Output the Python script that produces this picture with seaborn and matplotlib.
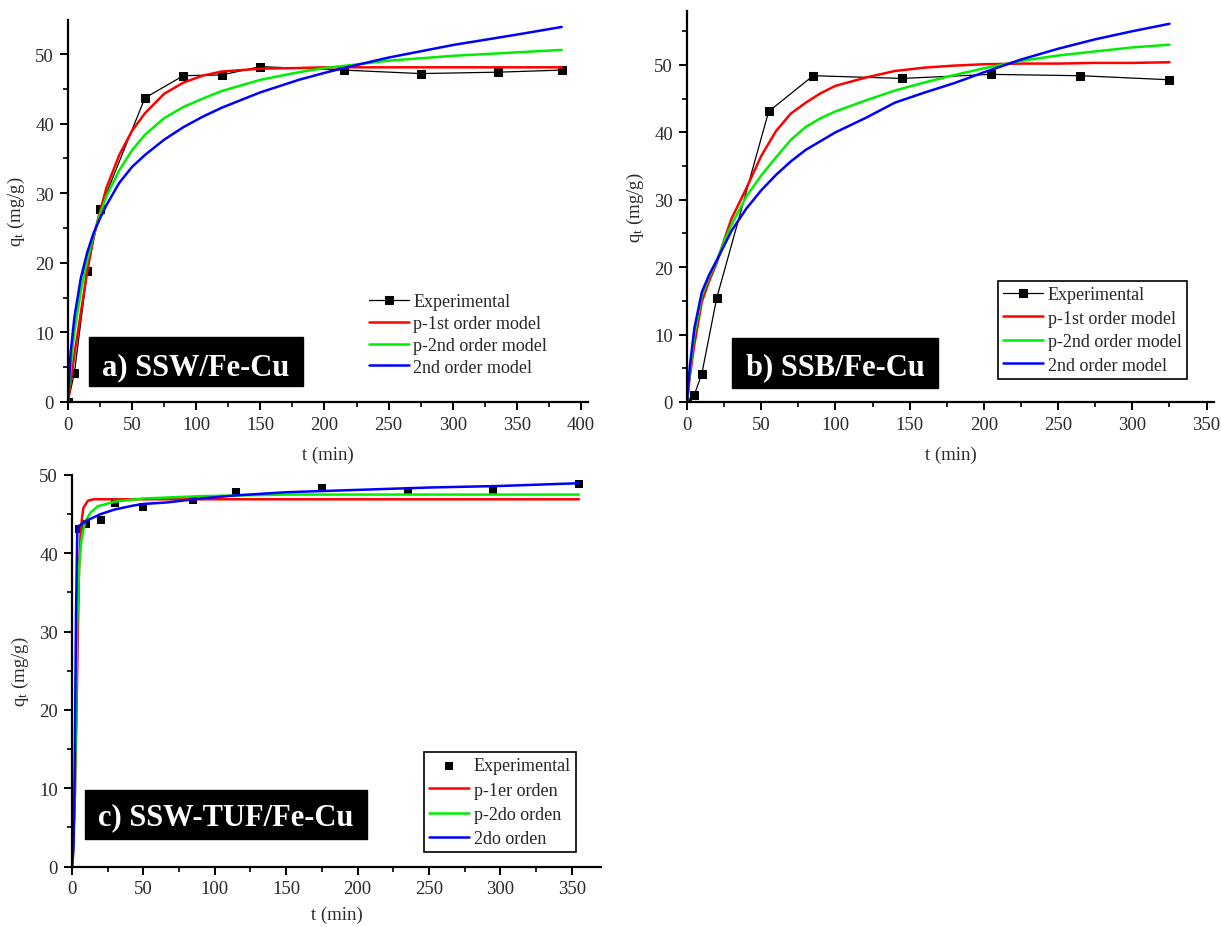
import matplotlib
matplotlib.use("Agg")
import matplotlib.pyplot as plt
from matplotlib.patches import Rectangle
from matplotlib.ticker import MultipleLocator
import seaborn as sns

# ---------------- a) SSW/Fe-Cu ----------------
a_exp_t = [0, 5, 15, 25, 60, 90, 120, 150, 215, 275, 335, 385]
a_exp_q = [0, 4.2, 18.8, 27.7, 43.7, 46.9, 47.0, 48.2, 47.7, 47.2, 47.4, 47.7]

a_fit_t = [0, 2, 5, 10, 15, 20, 25, 30, 40, 50, 60, 75, 90, 105, 120, 150,
           180, 200, 215, 250, 300, 350, 385]
a_pfo_q = [0, 2.8, 6.8, 12.8, 18.8, 23.8, 27.4, 30.8, 35.5, 39.0, 41.5, 44.3,
           45.9, 46.9, 47.5, 47.9, 48.0, 48.1, 48.1, 48.1, 48.1, 48.1, 48.1]
a_pso_q = [0, 5.0, 10.1, 15.9, 20.4, 24.0, 27.0, 29.6, 33.3, 36.2, 38.4, 40.8,
           42.4, 43.6, 44.7, 46.3, 47.4, 48.0, 48.3, 49.05, 49.75, 50.25, 50.6]
a_so_q = [0, 7.0, 12.2, 17.8, 21.5, 24.3, 26.4, 28.3, 31.5, 33.8, 35.5, 37.7,
          39.5, 41.0, 42.3, 44.5, 46.3, 47.3, 48.0, 49.5, 51.3, 52.8, 53.9]

# ---------------- b) SSB/Fe-Cu ----------------
b_exp_t = [0, 5, 10, 20, 55, 85, 145, 205, 265, 325]
b_exp_q = [0, 1.1, 4.2, 15.4, 43.1, 48.4, 48.0, 48.6, 48.4, 47.8]

b_fit_t = [0, 2, 5, 10, 15, 20, 25, 30, 40, 50, 60, 70, 80, 90, 100, 120, 140,
           160, 180, 200, 225, 250, 275, 300, 325]
b_pfo_q = [0, 4.0, 8.6, 14.9, 18.0, 20.6, 24.0, 27.2, 31.7, 36.5, 40.2, 42.8,
           44.4, 45.8, 46.9, 48.1, 49.1, 49.6, 49.9, 50.1, 50.2, 50.2, 50.3,
           50.3, 50.4]
b_pso_q = [0, 4.8, 10.0, 15.8, 18.6, 20.8, 23.8, 26.3, 30.5, 33.6, 36.3, 38.9,
           40.8, 42.1, 43.1, 44.7, 46.2, 47.4, 48.5, 49.5, 50.6, 51.4, 52.0,
           52.6, 53.0]
b_so_q = [0, 5.5, 11.0, 16.3, 18.9, 21.0, 23.2, 25.4, 28.7, 31.4, 33.7, 35.7,
          37.4, 38.7, 40.0, 42.1, 44.4, 45.9, 47.3, 48.9, 50.8, 52.4, 53.8,
          55.0, 56.1]

# ---------------- c) SSW-TUF/Fe-Cu ----------------
c_exp_t = [5, 10, 20, 30, 50, 85, 115, 175, 235, 295, 355]
c_exp_q = [43.1, 43.7, 44.2, 46.4, 45.9, 46.8, 47.8, 48.4, 48.0, 48.0, 48.85]

c_pfo_t = [0, 2, 3, 4, 5, 6, 7, 8, 11, 15, 355]
c_pfo_q = [0, 9.0, 18.0, 29.0, 38.4, 42.5, 44.5, 45.8, 46.7, 46.9, 46.9]

c_pso_t = [0, 2, 3, 3.5, 5, 6.5, 9, 13, 18, 30, 50, 90, 150, 355]
c_pso_q = [0, 9.0, 21.4, 30.0, 38.4, 41.5, 44.0, 45.2, 46.0, 46.6, 47.0, 47.3,
           47.5, 47.5]

c_so_t = [0, 1, 1.5, 2, 2.8, 3.7, 5, 10.5, 20, 30, 43, 50, 67, 90, 115, 150,
          200, 250, 300, 355]
c_so_q = [0, 2.0, 6.0, 15.0, 32.0, 42.9, 43.5, 44.2, 45.0, 45.6, 46.1, 46.3,
          46.5, 47.0, 47.4, 47.8, 48.1, 48.4, 48.6, 48.95]

labels_en = ["Experimental", "p-1st order model", "p-2nd order model",
             "2nd order model"]
labels_es = ["Experimental", "p-1er orden", "p-2do orden", "2do orden"]

RED, GREEN, BLUE = "#ff0000", "#00ee00", "#0000ff"

sns.set_theme(style="ticks")
plt.rcParams["font.family"] = ["Liberation Serif", "DejaVu Serif"]
plt.rcParams["mathtext.fontset"] = "custom"
plt.rcParams["mathtext.rm"] = "Liberation Serif"
plt.rcParams["mathtext.it"] = "Liberation Serif:italic"
plt.rcParams["mathtext.bf"] = "Liberation Serif:bold"

fig = plt.figure(figsize=(12.21, 9.28), dpi=100)
W, H = 1221.0, 928.0


def add_axes_px(left, right, top, bottom):
    return fig.add_axes([left / W, 1 - bottom / H, (right - left) / W,
                         (bottom - top) / H])


def style_axes(ax, xmax, ymax, xlabelpad):
    ax.set_xlim(0, xmax)
    ax.set_ylim(0, ymax)
    ax.xaxis.set_major_locator(MultipleLocator(50))
    ax.xaxis.set_minor_locator(MultipleLocator(25))
    ax.yaxis.set_major_locator(MultipleLocator(10))
    ax.yaxis.set_minor_locator(MultipleLocator(5))
    ax.tick_params(which="major", direction="out", length=6, width=1.4,
                   labelsize=13.5, pad=4, color="black", labelcolor="#2a2a2a")
    ax.tick_params(which="minor", direction="out", length=3.5, width=1.2,
                   color="black")
    for s in ("top", "right"):
        ax.spines[s].set_visible(False)
    for s in ("left", "bottom"):
        ax.spines[s].set_linewidth(1.6)
        ax.spines[s].set_color("black")
    ax.set_xlabel("t (min)", fontsize=13.5, color="#2a2a2a",
                  labelpad=xlabelpad)
    ax.set_ylabel(r"q$_\mathregular{t}$ (mg/g)", fontsize=13.5,
                  color="#2a2a2a", labelpad=6)
    ax.grid(False)


def tag_box(ax, x0, x1, y0, y1, ybase, text):
    ax.add_patch(Rectangle((x0, y0), x1 - x0, y1 - y0, transform=ax.transAxes,
                           facecolor="black", edgecolor="black", zorder=6))
    ax.text((x0 + x1) / 2, ybase, text, transform=ax.transAxes, color="white",
            fontsize=22, fontweight="bold", ha="center", va="baseline",
            zorder=7)


def draw_fits(ax, tr, qr, tg, qg, tb, qb, labels):
    sns.lineplot(x=tr, y=qr, ax=ax, color=RED, lw=1.8, sort=False,
                 estimator=None, label=labels[1])
    sns.lineplot(x=tg, y=qg, ax=ax, color=GREEN, lw=1.8, sort=False,
                 estimator=None, label=labels[2])
    sns.lineplot(x=tb, y=qb, ax=ax, color=BLUE, lw=1.8, sort=False,
                 estimator=None, label=labels[3])


# ---- panel a ----
ax_a = add_axes_px(68, 588, 21, 403)
sns.lineplot(x=a_exp_t, y=a_exp_q, ax=ax_a, color="black", lw=0.9,
             marker="s", markersize=6, markeredgecolor="black", sort=False,
             estimator=None, label=labels_en[0])
draw_fits(ax_a, a_fit_t, a_pfo_q, a_fit_t, a_pso_q, a_fit_t, a_so_q, labels_en)
style_axes(ax_a, 405.5, 54.9, 9)
ax_a.legend(loc="upper left", bbox_to_anchor=(0.579, 0.285), frameon=False,
            fontsize=13, handlelength=2.2, handletextpad=0.25,
            labelspacing=0.27, borderpad=0, borderaxespad=0)
tag_box(ax_a, 0.0404, 0.4519, 0.0419, 0.1702, 0.0733, "a) SSW/Fe-Cu")

# ---- panel b ----
ax_b = add_axes_px(687, 1214, 12, 403)
sns.lineplot(x=b_exp_t, y=b_exp_q, ax=ax_b, color="black", lw=0.9,
             marker="s", markersize=6, markeredgecolor="black", sort=False,
             estimator=None, label=labels_en[0])
draw_fits(ax_b, b_fit_t, b_pfo_q, b_fit_t, b_pso_q, b_fit_t, b_so_q, labels_en)
style_axes(ax_b, 355, 58, 9)
leg_b = ax_b.legend(loc="upper right", bbox_to_anchor=(0.9488, 0.3102),
                    frameon=True, fancybox=False, edgecolor="black",
                    framealpha=1, fontsize=13, handlelength=2.2,
                    handletextpad=0.25, labelspacing=0.36, borderpad=0.3,
                    borderaxespad=0)
leg_b.get_frame().set_linewidth(1.2)
tag_box(ax_b, 0.0863, 0.4763, 0.0358, 0.1637, 0.0716, "b) SSB/Fe-Cu")

# ---- panel c ----
ax_c = add_axes_px(72, 601, 476, 867.5)
sns.scatterplot(x=c_exp_t, y=c_exp_q, ax=ax_c, color="black", marker="s",
                s=34, edgecolor="black", linewidth=0, label=labels_es[0])
draw_fits(ax_c, c_pfo_t, c_pfo_q, c_pso_t, c_pso_q, c_so_t, c_so_q, labels_es)
style_axes(ax_c, 370.5, 50, 6)
leg_c = ax_c.legend(loc="upper right", bbox_to_anchor=(0.953, 0.2925),
                    frameon=True, fancybox=False, edgecolor="black",
                    framealpha=1, fontsize=13, handlelength=2.2,
                    handletextpad=0.25, labelspacing=0.4, borderpad=0.3,
                    borderaxespad=0)
leg_c.get_frame().set_linewidth(1.2)
tag_box(ax_c, 0.0246, 0.5577, 0.0702, 0.1954, 0.1086, "c) SSW-TUF/Fe-Cu")

fig.savefig("out.png", dpi=100)
